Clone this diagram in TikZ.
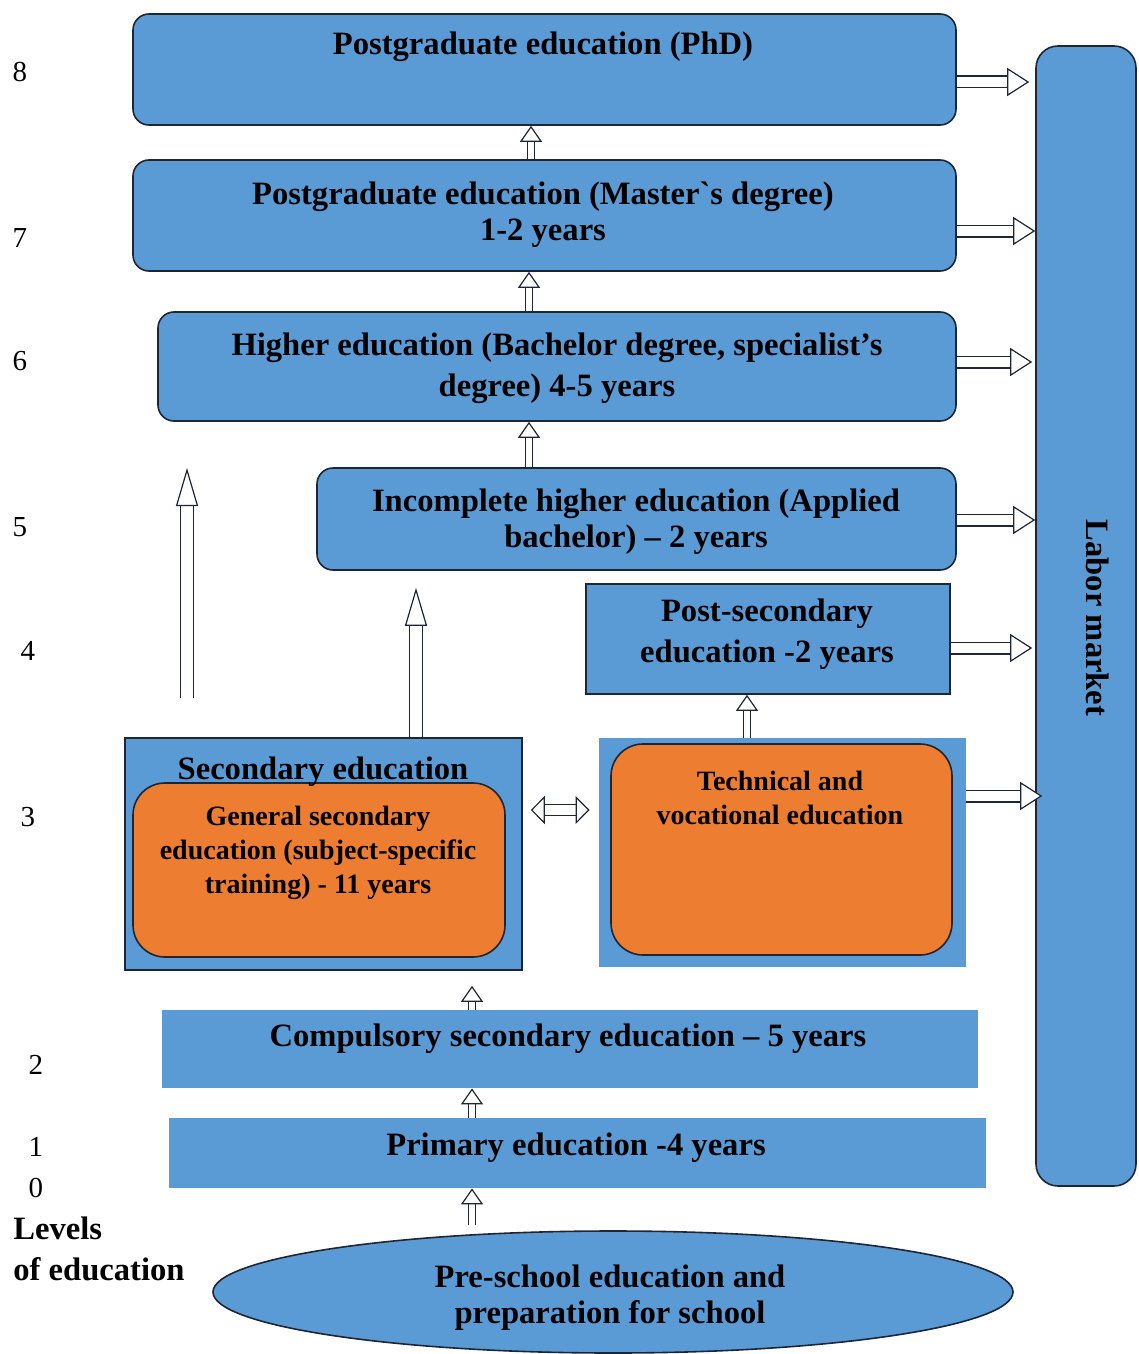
\documentclass[tikz,border=0pt]{standalone}
\usepackage{fontspec}
\setmainfont{Liberation Serif}
\usetikzlibrary{arrows.meta,fit,shapes.geometric}
\definecolor{boxblue}{HTML}{5B9BD5}
\definecolor{boxorange}{HTML}{ED7D31}
\definecolor{edge}{HTML}{1E2633}
\tikzset{
  box/.style={draw=edge, line width=0.8pt, fill=boxblue, rounded corners=8pt, inner sep=0pt},
  flatbox/.style={draw=edge, line width=0.8pt, fill=boxblue, inner sep=0pt},
  plainbox/.style={fill=boxblue, inner sep=0pt},
  orangebox/.style={draw=edge, line width=0.8pt, fill=boxorange, rounded corners=16pt, inner sep=0pt},
  txt/.style={font=\fontsize{16.3}{18}\selectfont\bfseries, align=center, inner sep=0pt, yshift=-1.5pt},
  wide/.style={font=\fontsize{16.3}{20.5}\selectfont\bfseries},
  small/.style={font=\fontsize{14}{17}\selectfont\bfseries},
  lvl/.style={font=\fontsize{14.5}{18}\selectfont, inner sep=0pt},
  uparrow/.style={double=white, draw=edge, double distance=2.8pt, line width=0.6pt,
    -{Triangle[open, fill=white, length=8pt, width=11pt]}},
  bigarrow/.style={double=white, draw=edge, double distance=5.6pt, line width=0.6pt,
    -{Triangle[open, fill=white, length=19pt, width=11pt]}},
  outarrow/.style={double=white, draw=edge, double distance=5.3pt, line width=0.6pt,
    -{Triangle[open, fill=white, length=11pt, width=14pt]}},
  botharrow/.style={double=white, draw=edge, double distance=5pt, line width=0.6pt,
    {Triangle[open, fill=white, length=7pt, width=14pt]}-{Triangle[open, fill=white, length=7pt, width=14pt]}},
}
\begin{document}
\begin{tikzpicture}[x=0.5pt,y=-0.5pt]
	\useasboundingbox (0,0) rectangle (1139,1354);
	% boxes
	\node[box, fit={(133,14) (956,125)}] (phd) {};
	\node[box, fit={(133,160) (956,271)}] (master) {};
	\node[box, fit={(158,312) (956,421)}] (higher) {};
	\node[box, fit={(317,468) (956,570)}] (incomplete) {};
	\node[flatbox, fit={(586,584) (950,694)}] (post) {};
	\node[flatbox, fit={(125,738) (522,970)}] (secondary) {};
	\node[orangebox, fit={(133,783) (505,957)}] (general) {};
	\node[plainbox, fit={(599,738) (966,967)}] (technical) {};
	\node[orangebox, fit={(611,744) (952,955)}] (vocational) {};
	\node[plainbox, fit={(162,1010) (978,1088)}] (compulsory) {};
	\node[plainbox, fit={(169,1118) (986,1188)}] (primary) {};
	\node[box, rounded corners=11pt, fit={(1036,46) (1136,1186)}] (labor) {};
	\node[draw=edge, line width=0.8pt, fill=boxblue, ellipse, minimum width=400pt, minimum height=61pt,
		inner sep=0pt] (preschool) at (613,1292) {};
	% texts
	\node[txt] (phdtext) at (543,44) {Postgraduate education (PhD)};
	\node[txt] (mastertext) at (543,212) {Postgraduate education (Master\textasciigrave s degree)\\1-2 years};
	\node[txt, wide] (highertext) at (557,365) {Higher education (Bachelor degree, specialist’s\\degree) 4-5 years};
	\node[txt] (incompletetext) at (636,519) {Incomplete higher education (Applied\\bachelor) – 2 years};
	\node[txt, wide] (posttext) at (767,631) {Post-secondary\\education -2 years};
	\node[txt] (sectext) at (323,769) {Secondary education};
	\node[txt, small] (generaltext) at (318,850) {General secondary\\education (subject-specific\\training) - 11 years};
	\node[txt, small] (voctext) at (780,795) {Technical and\\vocational education};
	\node[txt] (comptext) at (568,1036) {Compulsory secondary education – 5 years};
	\node[txt] (primtext) at (576,1145) {Primary education -4 years};
	\node[txt] (pretext) at (610,1295) {Pre-school education and\\preparation for school};
	\node[txt, rotate=-90, yshift=1.5pt] (labortext) at (1095,615) {Labor market};
	% levels
	\node[lvl] (l8) at (20,72) {8};
	\node[lvl] (l7) at (20,238) {7};
	\node[lvl] (l6) at (20,361) {6};
	\node[lvl] (l5) at (20,527) {5};
	\node[lvl] (l4) at (28,651) {4};
	\node[lvl] (l3) at (28,817) {3};
	\node[lvl] (l2) at (36,1065) {2};
	\node[lvl] (l1) at (36,1147) {1};
	\node[lvl] (l0) at (36,1188) {0};
	\node[txt, wide, align=left, anchor=north west] (levels) at (13,1213) {Levels\\of education};
	% arrow columns and rows
	\coordinate (c187) at (187,0);
	\coordinate (c416) at (416,0);
	\coordinate (c472) at (472,0);
	\coordinate (c529) at (529,0);
	\coordinate (c531) at (531,0);
	\coordinate (c747) at (747,0);
	\coordinate (r82) at (0,82);
	\coordinate (r231) at (0,231);
	\coordinate (r362) at (0,362);
	\coordinate (r520) at (0,520);
	\coordinate (r648) at (0,648);
	\coordinate (r796) at (0,796);
	\coordinate (r810) at (0,810);
	\coordinate (bigfoot) at (187,698);
	\coordinate (bighead) at (187,468);
	\coordinate (prefoot) at (472,1225);
	% upward arrows
	\draw[uparrow] (master.north -| c531) -- (phd.south -| c531);
	\draw[uparrow] (higher.north -| c529) -- (master.south -| c529);
	\draw[uparrow] (incomplete.north -| c529) -- (higher.south -| c529);
	\draw[bigarrow] (bigfoot) -- (bighead);
	\draw[bigarrow] (secondary.north -| c416) -- ([yshift=-8.5pt]incomplete.south -| c416);
	\draw[uparrow] (technical.north -| c747) -- (post.south -| c747);
	\draw[uparrow] (compulsory.north -| c472) -- ([yshift=-7.5pt]secondary.south -| c472);
	\draw[uparrow] (primary.north -| c472) -- (compulsory.south -| c472);
	\draw[uparrow] (prefoot) -- (primary.south -| c472);
	\draw[botharrow, shorten <=4pt, shorten >=4.5pt] (secondary.east |- r810) -- (technical.west |- r810);
	% arrows to the labor market
	\draw[outarrow, shorten >=3pt] (phd.east |- r82) -- (labor.west |- r82);
	\draw[outarrow] (master.east |- r231) -- (labor.west |- r231);
	\draw[outarrow, shorten >=1.5pt] (higher.east |- r362) -- (labor.west |- r362);
	\draw[outarrow] (incomplete.east |- r520) -- (labor.west |- r520);
	\draw[outarrow, shorten >=1.5pt] (post.east |- r648) -- (labor.west |- r648);
	\draw[outarrow, shorten >=-3.5pt] (technical.east |- r796) -- (labor.west |- r796);
\end{tikzpicture}
\end{document}
